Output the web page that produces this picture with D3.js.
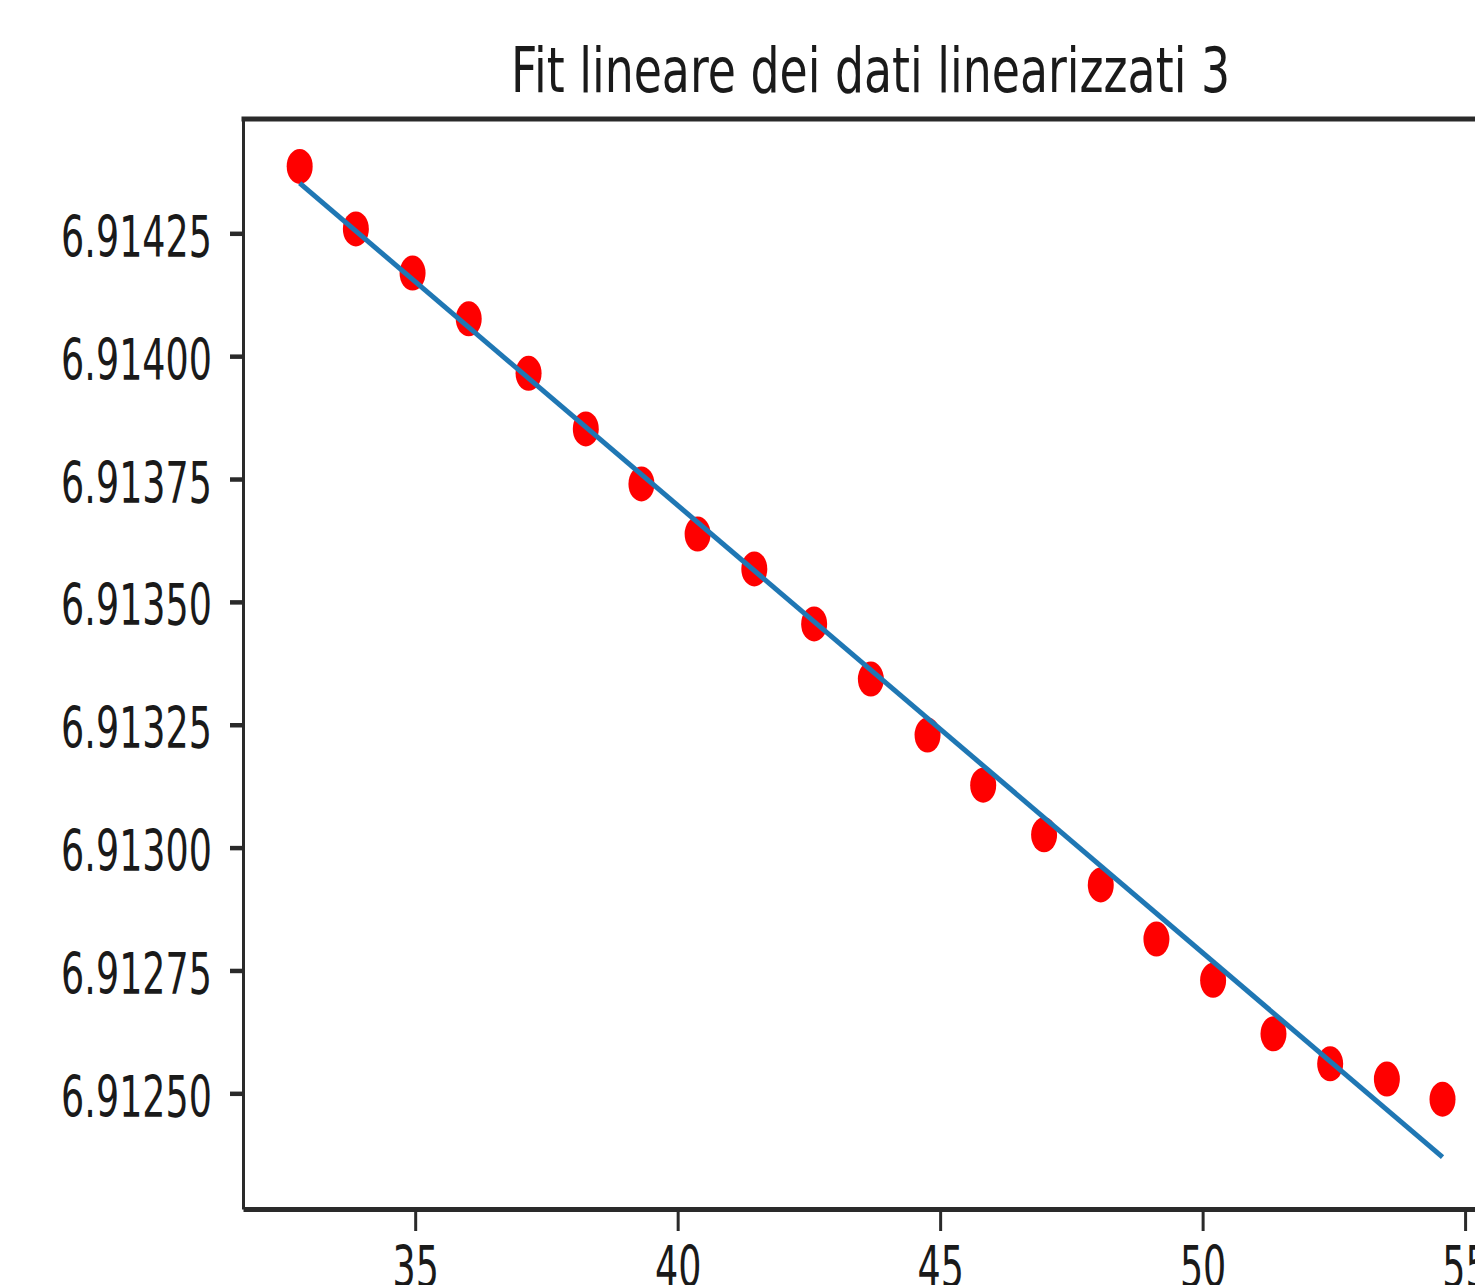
<!DOCTYPE html>
<html>
<head>
<meta charset="utf-8">
<script src="https://cdn.jsdelivr.net/npm/d3@7"></script>
<style>
  html, body { margin: 0; padding: 0; background: #ffffff; }
  svg { display: block; }
</style>
</head>
<body>
<div id="chart"></div>
<script>
// ---- data ----
const titleText = "Fit lineare dei dati linearizzati 3";
const xData = [32.80, 33.87, 34.95, 36.02, 37.16, 38.25, 39.31, 40.38, 41.46, 42.60, 43.68,
               44.76, 45.82, 46.98, 48.06, 49.12, 50.20, 51.35, 52.43, 53.51, 54.57];
const yData = [6.914386, 6.914259, 6.914169, 6.914076, 6.913965, 6.913852, 6.913740,
               6.913638, 6.913567, 6.913455, 6.913343, 6.913229, 6.913127, 6.913026,
               6.912924, 6.912814, 6.912730, 6.912621, 6.912560, 6.912529, 6.912488];
const fitX = [32.80, 54.57];
const fitY = [6.914352, 6.912370];
const xTicks = [35, 40, 45, 50, 55];
const yTicks = [6.91250, 6.91275, 6.91300, 6.91325, 6.91350, 6.91375, 6.91400, 6.91425];
const xDomain = [31.72, 55.665];
const yDomain = [6.9122646, 6.9144826];

// ---- layout ----
const W = 1475, H = 1285;
const L = 243, R = 1500, T = 119, B = 1209;
const spineColor = "#2a2a2a";
const textColor = "#1a1a1a";
const fontFam = "'DejaVu Sans', sans-serif";

const svg = d3.select("#chart").append("svg")
  .attr("width", W).attr("height", H)
  .style("background", "#fff");

const x = d3.scaleLinear().domain(xDomain).range([L, R]);
const y = d3.scaleLinear().domain(yDomain).range([B, T]);

// points (drawn first, line on top)
svg.append("g").selectAll("ellipse")
  .data(xData.map((v, i) => [v, yData[i]]))
  .join("ellipse")
  .attr("cx", d => x(d[0]))
  .attr("cy", d => y(d[1]))
  .attr("rx", 13)
  .attr("ry", 17.5)
  .attr("fill", "#ff0000");

// fit line
svg.append("path")
  .datum(fitX.map((v, i) => [v, fitY[i]]))
  .attr("fill", "none")
  .attr("stroke", "#1f77b4")
  .attr("stroke-width", 5)
  .attr("d", d3.line().x(d => x(d[0])).y(d => y(d[1])));

// axes
const xAxis = d3.axisBottom(x).tickValues(xTicks).tickSize(22).tickSizeOuter(0)
  .tickFormat(d3.format("d"));
const gx = svg.append("g").attr("transform", `translate(0,${B})`).call(xAxis);
gx.select(".domain").attr("stroke", spineColor).attr("stroke-width", 5);
gx.selectAll(".tick line").attr("stroke", spineColor).attr("stroke-width", 3);
gx.selectAll(".tick text")
  .attr("fill", textColor)
  .attr("font-family", fontFam)
  .attr("font-size", 36.5)
  .attr("dy", null)
  .attr("y", 0)
  .attr("transform", "translate(0,78) scale(1,1.58)")
  .attr("text-anchor", "middle");

const yAxis = d3.axisLeft(y).tickValues(yTicks).tickSize(13).tickSizeOuter(0)
  .tickFormat(d3.format(".5f"));
const gy = svg.append("g").attr("transform", `translate(${L},0)`).call(yAxis);
gy.select(".domain").attr("stroke", spineColor).attr("stroke-width", 3);
gy.selectAll(".tick line").attr("stroke", spineColor).attr("stroke-width", 4.5);
gy.selectAll(".tick text")
  .attr("fill", textColor)
  .attr("font-family", fontFam)
  .attr("font-size", 36.5)
  .attr("dy", null)
  .attr("x", 0)
  .attr("y", 0)
  .attr("transform", "translate(-31,23) scale(1,1.58)")
  .attr("text-anchor", "end");

// top and right spines
svg.append("line").attr("x1", L - 1.5).attr("x2", R).attr("y1", T).attr("y2", T)
  .attr("stroke", spineColor).attr("stroke-width", 5);
svg.append("line").attr("x1", R).attr("x2", R).attr("y1", T).attr("y2", B)
  .attr("stroke", spineColor).attr("stroke-width", 3);

// title
svg.append("text")
  .attr("transform", `translate(${(L + R) / 2 - 1},92) scale(1,1.36)`)
  .attr("text-anchor", "middle")
  .attr("font-family", fontFam)
  .attr("font-size", 45.8)
  .attr("fill", textColor)
  .text(titleText);
</script>
</body>
</html>
